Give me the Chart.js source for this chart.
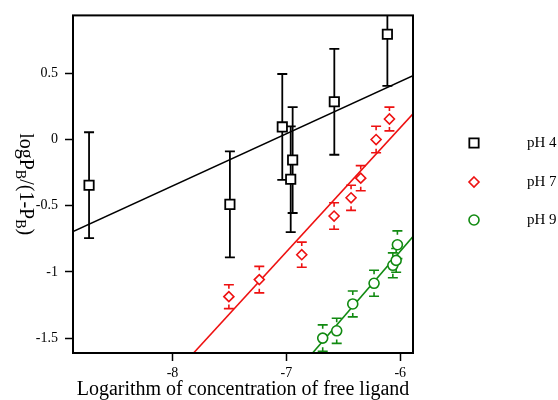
<!DOCTYPE html>
<html><head><meta charset="utf-8">
<script src="https://cdn.jsdelivr.net/npm/chart.js@4.4.0/dist/chart.umd.min.js"></script>
<style>html,body{margin:0;padding:0;background:#fff;} #wrap{width:558px;height:400px;}</style>
</head><body><div id="wrap"><canvas id="c" width="558" height="400"></canvas></div>
<script>
// ---- data ----
const seriesLabels = ['pH 4', 'pH 7', 'pH 9'];
const seriesColors = ['#000000', '#ee1111', '#118a11'];

const x4 = [-8.733, -7.496, -7.036, -6.945, -6.962, -6.579, -6.113];
const y4 = [-0.345, -0.49, 0.095, -0.155, -0.30, 0.285, 0.795];
const e4 = [0.40, 0.40, 0.40, 0.40, 0.40, 0.40, 0.39];

const x7 = [-7.505, -7.238, -6.865, -6.581, -6.432, -6.347, -6.212, -6.095];
const y7 = [-1.187, -1.058, -0.870, -0.578, -0.440, -0.292, 0.0, 0.155];
const e7 = [0.09, 0.10, 0.095, 0.10, 0.095, 0.095, 0.10, 0.09];

const x9 = [-6.681, -6.558, -6.417, -6.230, -6.065, -6.036, -6.025];
const y9 = [-1.50, -1.445, -1.242, -1.086, -0.950, -0.913, -0.795];
const e9 = [0.10, 0.095, 0.098, 0.098, 0.094, 0.09, 0.105];

const fitX4 = [-8.874, -5.888], fitY4 = [-0.695, 0.482];
const fitX7 = [-7.815, -5.888], fitY7 = [-1.6125, 0.195];
const fitX9 = [-6.770, -5.888], fitY9 = [-1.6125, -0.733];

const xMin = -8.874, xMax = -5.888;
const yMin = -1.6125, yMax = 0.9375;
const xTickValues = [-8, -7, -6];
const xTickLabels = ['-8', '-7', '-6'];
const yTickValues = [-1.5, -1, -0.5, 0, 0.5];
const yTickLabels = ['-1.5', '-1', '-0.5', '0', '0.5'];

const xTitle = 'Logarithm of concentration of free ligand';
const yTitleParts = [['logP', false], ['B', true], ['/(1-P', false], ['B', true], [')', false]];

const SERIF = "'Liberation Serif', 'Times New Roman', serif";

function pts(xs, ys) { return xs.map((x, i) => ({x: x, y: ys[i]})); }

const markerDefs = [
  {style: 'rect', radius: 6.6, width: 1.8, stub: 0, cap: 5, errW: 1.8},
  {style: 'rectRot', radius: 5, width: 1.6, stub: 4, cap: 5, errW: 1.6},
  {style: 'circle', radius: 5, width: 1.6, stub: 4, cap: 5, errW: 1.6}
];

const scatterSets = [[x4, y4, e4], [x7, y7, e7], [x9, y9, e9]].map((s, k) => ({
  label: seriesLabels[k],
  data: pts(s[0], s[1]),
  errors: s[2],
  errStub: markerDefs[k].stub,
  capHalf: markerDefs[k].cap,
  errLineWidth: markerDefs[k].errW,
  borderColor: seriesColors[k],
  backgroundColor: '#ffffff',
  pointStyle: markerDefs[k].style,
  pointRadius: markerDefs[k].radius,
  pointBorderWidth: markerDefs[k].width,
  pointHoverRadius: markerDefs[k].radius,
  showLine: false
}));

const fitSets = [[fitX4, fitY4], [fitX7, fitY7], [fitX9, fitY9]].map((f, k) => ({
  label: 'fit ' + seriesLabels[k],
  data: pts(f[0], f[1]),
  borderColor: seriesColors[k],
  borderWidth: 1.6,
  pointRadius: 0,
  showLine: true,
  fill: false
}));

const errorBarPlugin = {
  id: 'errorBars',
  beforeDatasetsDraw(chart) {
    const ctx = chart.ctx, xs = chart.scales.x, ys = chart.scales.y, a = chart.chartArea;
    ctx.save();
    ctx.beginPath(); ctx.rect(a.left, a.top, a.right - a.left, a.bottom - a.top); ctx.clip();
    chart.data.datasets.forEach(ds => {
      if (!ds.errors) return;
      ctx.strokeStyle = ds.borderColor; ctx.lineWidth = ds.errLineWidth;
      ds.data.forEach((p, i) => {
        const px = xs.getPixelForValue(p.x);
        const yT = ys.getPixelForValue(p.y + ds.errors[i]);
        const yB = ys.getPixelForValue(p.y - ds.errors[i]);
        ctx.beginPath();
        if (ds.errStub) {
          ctx.moveTo(px, yT); ctx.lineTo(px, yT + ds.errStub);
          ctx.moveTo(px, yB); ctx.lineTo(px, yB - ds.errStub);
        } else {
          ctx.moveTo(px, yT); ctx.lineTo(px, yB);
        }
        ctx.moveTo(px - ds.capHalf, yT); ctx.lineTo(px + ds.capHalf, yT);
        ctx.moveTo(px - ds.capHalf, yB); ctx.lineTo(px + ds.capHalf, yB);
        ctx.stroke();
      });
    });
    ctx.restore();
  }
};

function drawMarker(ctx, style, r, x, y) {
  ctx.beginPath();
  if (style === 'rect') {
    const s = r * Math.SQRT1_2;
    ctx.rect(x - s, y - s, 2 * s, 2 * s);
  } else if (style === 'rectRot') {
    ctx.moveTo(x, y - r); ctx.lineTo(x + r, y); ctx.lineTo(x, y + r); ctx.lineTo(x - r, y); ctx.closePath();
  } else {
    ctx.arc(x, y, r, 0, Math.PI * 2);
  }
  ctx.fill(); ctx.stroke();
}

const decorPlugin = {
  id: 'decor',
  afterDraw(chart) {
    const ctx = chart.ctx, a = chart.chartArea;
    ctx.save();
    // frame
    ctx.strokeStyle = '#000'; ctx.lineWidth = 2;
    ctx.strokeRect(a.left, a.top, a.right - a.left, a.bottom - a.top);
    // x title
    ctx.fillStyle = '#000';
    ctx.font = '20px ' + SERIF;
    ctx.textAlign = 'center'; ctx.textBaseline = 'alphabetic';
    ctx.fillText(xTitle, (a.left + a.right) / 2, 395);
    // y title (rotated clockwise)
    ctx.save();
    ctx.translate(25, (a.top + a.bottom) / 2);
    ctx.rotate(Math.PI / 2);
    const big = '20px ' + SERIF, small = '14px ' + SERIF;
    let total = 0;
    yTitleParts.forEach(p => { ctx.font = p[1] ? small : big; total += ctx.measureText(p[0]).width; });
    let cx = -total / 2;
    ctx.textAlign = 'left';
    yTitleParts.forEach(p => {
      ctx.font = p[1] ? small : big;
      ctx.fillText(p[0], cx, p[1] ? 9 : 5);
      cx += ctx.measureText(p[0]).width;
    });
    ctx.restore();
    // legend
    const legendY = [143, 182, 220];
    chart.data.datasets.slice(0, 3).forEach((ds, k) => {
      ctx.strokeStyle = ds.borderColor; ctx.fillStyle = '#fff'; ctx.lineWidth = ds.pointBorderWidth;
      drawMarker(ctx, ds.pointStyle, ds.pointRadius, 474, legendY[k]);
      ctx.fillStyle = '#000';
      ctx.font = '15px ' + SERIF;
      ctx.textAlign = 'left'; ctx.textBaseline = 'middle';
      ctx.fillText(ds.label, 527, legendY[k]);
    });
    ctx.restore();
  }
};

new Chart(document.getElementById('c'), {
  type: 'scatter',
  data: {datasets: scatterSets.concat(fitSets)},
  options: {
    responsive: false, animation: false, devicePixelRatio: 1,
    layout: {padding: {left: 0, top: 13, right: 145, bottom: 0}},
    plugins: {legend: {display: false}, tooltip: {enabled: false}},
    scales: {
      x: {
        type: 'linear', min: xMin, max: xMax,
        afterBuildTicks: s => { s.ticks = xTickValues.map(v => ({value: v})); },
        afterFit: s => { s.height = 47; },
        ticks: {callback: (v, i) => xTickLabels[i], font: {family: SERIF, size: 14}, color: '#000', padding: 4, maxRotation: 0, autoSkip: false},
        grid: {drawOnChartArea: false, drawTicks: true, tickLength: 8, tickWidth: 1.5, tickColor: '#000'},
        border: {display: false}
      },
      y: {
        type: 'linear', min: yMin, max: yMax,
        afterBuildTicks: s => { s.ticks = yTickValues.map(v => ({value: v})); },
        afterFit: s => { s.width = 73; },
        ticks: {callback: (v, i) => yTickLabels[i], font: {family: SERIF, size: 14}, color: '#000', padding: 7, autoSkip: false},
        grid: {drawOnChartArea: false, drawTicks: true, tickLength: 8, tickWidth: 1.5, tickColor: '#000'},
        border: {display: false}
      }
    }
  },
  plugins: [errorBarPlugin, decorPlugin]
});
</script>
</body></html>
